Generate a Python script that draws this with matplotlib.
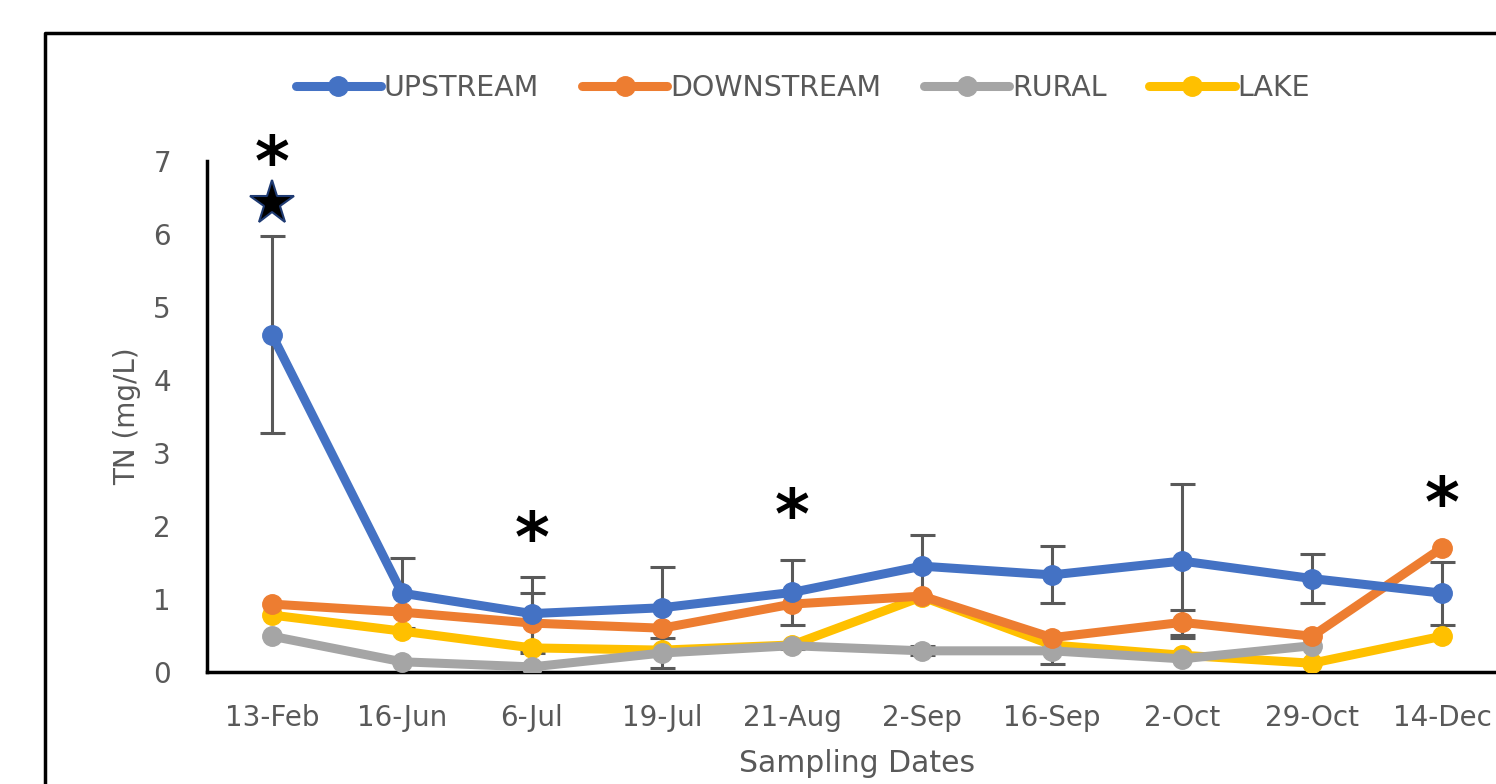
import numpy as np
import matplotlib
matplotlib.use("Agg")
import matplotlib.pyplot as plt
from matplotlib.lines import Line2D

plt.rcParams['font.family'] = ['DejaVu Sans']

# sampling dates and TN means (mg/L) per site
dates = ["13-Feb", "16-Jun", "6-Jul", "19-Jul", "21-Aug", "2-Sep",
         "16-Sep", "2-Oct", "29-Oct", "14-Dec"]
upstream = [4.62, 1.08, 0.80, 0.88, 1.09, 1.45, 1.33, 1.52, 1.28, 1.08]
downstream = [0.93, 0.82, 0.67, 0.60, 0.93, 1.04, 0.47, 0.68, 0.49, 1.70]
rural = [0.49, 0.14, 0.07, 0.26, 0.36, 0.29, 0.29, 0.18, 0.36, np.nan]
lake = [0.78, 0.56, 0.33, 0.30, 0.37, 1.03, 0.37, 0.23, 0.12, 0.49]

# standard deviations (0 = not shown)
upstream_sd = [1.35, 0.48, 0.50, 0.56, 0.44, 0.43, 0.39, 1.06, 0.34, 0.43]
downstream_sd = [0, 0, 0.41, 0, 0, 0, 0, 0.17, 0, 0]
rural_sd = [0, 0, 0, 0.21, 0.05, 0.06, 0.18, 0, 0, 0]
lake_sd = [0] * 10

# significance markers: (date index, y)
asterisks = [(0, 6.93), (2, 1.78), (4, 2.09), (9, 2.26)]
star_point = (0, 6.42)

series = [
    ("UPSTREAM", upstream, upstream_sd, "#4472C4"),
    ("DOWNSTREAM", downstream, downstream_sd, "#ED7D31"),
    ("RURAL", rural, rural_sd, "#A5A5A5"),
    ("LAKE", lake, lake_sd, "#FFC000"),
]

TXT = "#595959"
W, H = 1496, 784
fig = plt.figure(figsize=(W / 100, H / 100), dpi=100)
ax = fig.add_axes([207 / W, 1 - 672 / H, 1300 / W, 511 / H])

x = np.arange(len(dates))

# error bars first so the lines sit on top
for name, vals, sd, col in series:
    v = np.array(vals, dtype=float)
    e = np.array(sd, dtype=float)
    m = e > 0
    if m.any():
        ax.errorbar(x[m], v[m], yerr=e[m], fmt="none", ecolor=TXT,
                    elinewidth=2.2, capsize=9, capthick=2.2, zorder=2)

handles = []
for i, (name, vals, sd, col) in enumerate(series):
    ln, = ax.plot(x, vals, color=col, lw=6.5, marker="o", ms=14,
                  solid_capstyle="round", zorder=6 - i, label=name)
    handles.append(ln)

for xi, yi in asterisks:
    ax.text(xi, yi, "*", ha="center", va="center", fontsize=48,
            fontweight="bold", color="black", clip_on=False)
ax.plot(star_point[0], star_point[1], marker="*", ms=33, color="black",
        markeredgecolor="#1F3B73", markeredgewidth=1.5, clip_on=False, zorder=8)

ax.set_xlim(-0.5, 9.5)
ax.set_ylim(0, 7)
ax.set_xticks(x)
ax.set_xticklabels(dates)
ax.set_yticks(range(0, 8))
ax.tick_params(length=0, labelsize=20, labelcolor=TXT)
ax.tick_params(axis="x", pad=23)
ax.tick_params(axis="y", pad=26)
for s in ["top", "right"]:
    ax.spines[s].set_visible(False)
for s in ["left", "bottom"]:
    ax.spines[s].set_linewidth(2.5)
    ax.spines[s].set_color("black")
ax.set_xlabel("Sampling Dates", fontsize=21.5, color=TXT, labelpad=12)
ax.set_ylabel("TN (mg/L)", fontsize=20, color=TXT, labelpad=9)

fig.legend(handles=handles, loc="center", bbox_to_anchor=(803 / W, 1 - 88 / H),
           ncol=4, frameon=False, fontsize=20.5, handlelength=3.0,
           handletextpad=0.1, columnspacing=1.5, labelcolor=TXT)

# outer chart frame (left and top edges)
fig.add_artist(Line2D([45 / W, 45 / W, 1.01], [-0.01, 1 - 33 / H, 1 - 33 / H],
                      transform=fig.transFigure, color="black", lw=2.5))

fig.savefig("out.png", dpi=100, facecolor="white")
